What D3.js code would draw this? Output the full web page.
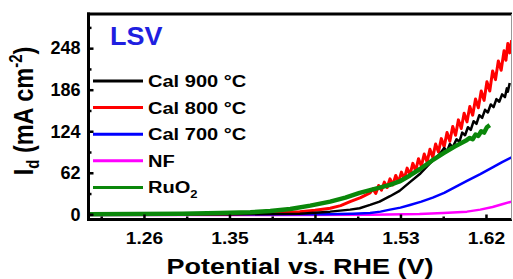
<!DOCTYPE html>
<html>
<head>
<meta charset="utf-8">
<script src="https://cdn.jsdelivr.net/npm/d3@7"></script>
<style>
  html, body { margin: 0; padding: 0; background: #fff; }
  text { font-family: "Liberation Sans", Arial, sans-serif; font-weight: bold; }
</style>
</head>
<body>
<svg id="chart" width="513" height="279"></svg>
<script>
// ---------- data ----------
const xTicks = [1.26, 1.35, 1.44, 1.53, 1.62];
const xMinorTicks = [1.215, 1.305, 1.395, 1.485, 1.575];
const yTicks = [0, 62, 124, 186, 248];
const yMinorTicks = [31, 93, 155, 217, 279];

const seriesNames = ["Cal 900 °C", "Cal 800 °C", "Cal 700 °C", "NF", "RuO2"];
const seriesColors = ["#000000", "#ff0000", "#0000ff", "#ff00ff", "#0a870a"];

const cal900 = [
  [1.200,0],[1.350,0],[1.400,0.5],[1.424,1],[1.456,4],[1.477,7],[1.487,9],[1.498,14],
  [1.508,19],[1.519,27],[1.529,35],[1.540,48],[1.551,61],[1.561,76],[1.572,91],
  [1.576,99],[1.579,94],[1.582,105],[1.585,100],[1.589,112],[1.592,108],[1.595,122],
  [1.598,118],[1.601,130],[1.604,126],[1.607,139],[1.610,135],[1.613,148],[1.616,144],
  [1.619,156],[1.622,152],[1.625,164],[1.628,160],[1.631,172],[1.634,168],[1.637,179],
  [1.640,175],[1.642,188],[1.643,183],[1.645,196]
];
const cal800 = [
  [1.200,0],[1.300,0],[1.350,0.5],[1.400,2],[1.424,4],[1.440,6],[1.456,9],[1.467,13],
  [1.477,19],[1.488,25],[1.498,32],
  [1.501,38],[1.504,31],[1.507,43],[1.510,36],[1.513,48],[1.516,40],[1.519,53],[1.522,44],
  [1.525,58],[1.528,48],[1.531,63],[1.534,53],[1.537,69],[1.540,59],[1.543,76],[1.546,65],
  [1.549,83],[1.552,72],[1.555,90],[1.558,78],[1.561,97],[1.564,85],[1.567,105],[1.570,93],
  [1.573,113],[1.576,101],[1.579,122],[1.582,109],[1.585,131],[1.588,118],[1.591,141],
  [1.594,128],[1.597,151],[1.600,138],[1.603,161],[1.606,148],[1.609,172],[1.612,159],
  [1.615,184],[1.618,170],[1.621,198],[1.624,184],[1.627,214],[1.630,201],[1.633,229],
  [1.636,215],[1.639,244],[1.641,230],[1.643,255],[1.645,241],[1.647,260]
];
const cal700 = [
  [1.200,0],[1.450,0],[1.480,1],[1.498,2],[1.509,4],[1.519,7],[1.530,10],[1.540,14],
  [1.552,19],[1.564,25],[1.576,32],[1.588,41],[1.600,50],[1.614,60],[1.627,70],
  [1.637,78],[1.647,85]
];
const nf = [
  [1.200,-1],[1.400,-1],[1.500,-0.5],[1.550,0.5],[1.575,2],[1.600,4],[1.614,7],
  [1.627,11],[1.637,15],[1.647,19]
];
const ruo2 = [
  [1.200,0],[1.250,0.5],[1.300,1],[1.340,2],[1.372,3],[1.393,5],[1.414,8],[1.435,13],
  [1.456,19],[1.472,25],[1.487,32],[1.503,38],[1.519,44],[1.529,49],[1.540,58],
  [1.551,68],[1.563,80],[1.575,91],[1.587,101],[1.600,111],[1.603,114],[1.606,112],
  [1.609,119],[1.612,117],[1.615,124],[1.618,122],[1.621,130],[1.624,133]
];
const seriesData = [cal900, cal800, cal700, nf, ruo2];
const seriesWidths = [2.5, 3, 2.5, 2.5, 4.5];
const drawOrder = [3, 2, 1, 0, 4];

// ---------- layout ----------
const L = 88.5, R = 512, T = 14, B = 219.5;
const svg = d3.select("#chart");
const x = d3.scaleLinear().domain([1.2011, 1.6474]).range([88, 512]);
const y = d3.scaleLinear().domain([-7, 299]).range([219, 14]);

svg.append("defs").append("clipPath").attr("id", "clip")
  .append("rect").attr("x", 89).attr("y", 15).attr("width", R - 89).attr("height", B - 15);

// lines
const line = d3.line().x(d => x(d[0])).y(d => y(d[1]));
const plot = svg.append("g").attr("clip-path", "url(#clip)");
drawOrder.forEach(i => {
  plot.append("path").datum(seriesData[i])
    .attr("d", line)
    .attr("fill", "none")
    .attr("stroke", seriesColors[i])
    .attr("stroke-width", seriesWidths[i])
    .attr("stroke-linejoin", "round");
});

// axes
const xAxis = svg.append("g").attr("transform", `translate(0,${B})`)
  .call(d3.axisBottom(x).tickValues(xTicks).tickSize(-5).tickSizeOuter(0).tickPadding(13)
    .tickFormat(d3.format(".2f")));
xAxis.append("g").call(d3.axisBottom(x).tickValues(xMinorTicks).tickSize(-3).tickSizeOuter(0).tickFormat(""));
xAxis.selectAll(".domain").remove();
xAxis.selectAll("line").attr("stroke", "#000").attr("stroke-width", 2.5);
xAxis.selectAll("text").attr("fill", "#000").style("font-size", "16px")
  .attr("transform", "scale(1.2,1)");

const yAxis = svg.append("g").attr("transform", `translate(${L},0)`)
  .call(d3.axisLeft(y).tickValues(yTicks).tickSize(-5).tickSizeOuter(0).tickPadding(8));
yAxis.append("g").call(d3.axisLeft(y).tickValues(yMinorTicks).tickSize(-3).tickSizeOuter(0).tickFormat(""));
yAxis.selectAll(".domain").remove();
yAxis.selectAll("line").attr("stroke", "#000").attr("stroke-width", 2.5);
yAxis.selectAll("text").attr("fill", "#000").style("font-size", "18px");

// frame
svg.append("line").attr("x1", L).attr("x2", L).attr("y1", T - 1.5).attr("y2", B + 1.5)
  .attr("stroke", "#000").attr("stroke-width", 3);
svg.append("line").attr("x1", L - 1.5).attr("x2", R).attr("y1", T).attr("y2", T)
  .attr("stroke", "#000").attr("stroke-width", 3);
svg.append("line").attr("x1", L - 1.5).attr("x2", R).attr("y1", B).attr("y2", B)
  .attr("stroke", "#000").attr("stroke-width", 3);
svg.append("line").attr("x1", 511.5).attr("x2", 511.5).attr("y1", T).attr("y2", B)
  .attr("stroke", "#999").attr("stroke-width", 1);

// axis titles
svg.append("text")
  .attr("transform", "translate(300,274) scale(1.2,1)")
  .attr("text-anchor", "middle")
  .style("font-size", "22.5px")
  .text("Potential vs. RHE (V)");

const yl = svg.append("text")
  .attr("transform", "translate(33,111) scale(1.17,1) rotate(-90)")
  .attr("text-anchor", "middle")
  .style("font-size", "23.5px");
yl.append("tspan").text("I");
yl.append("tspan").attr("dy", 5).style("font-size", "15px").text("d");
yl.append("tspan").attr("dy", -5).text(" (mA cm");
yl.append("tspan").attr("dy", -9).style("font-size", "15px").text("-2");
yl.append("tspan").attr("dy", 9).text(")");

// LSV label
svg.append("text")
  .attr("transform", "translate(110,45) scale(1.08,1)")
  .attr("fill", "#1f1fe0")
  .style("font-size", "25px")
  .text("LSV");

// legend
const legY0 = 81, legDy = 26.6;
seriesNames.forEach((name, i) => {
  const ly = legY0 + i * legDy;
  svg.append("line").attr("x1", 93).attr("x2", 143).attr("y1", ly).attr("y2", ly)
    .attr("stroke", seriesColors[i]).attr("stroke-width", 3);
  const t = svg.append("text")
    .attr("transform", `translate(148,${ly + 6}) scale(1.18,1)`)
    .style("font-size", "17px");
  if (name === "RuO2") {
    t.append("tspan").text("RuO");
    t.append("tspan").attr("dy", 5).style("font-size", "11px").text("2");
  } else {
    t.text(name);
  }
});
</script>
</body>
</html>
